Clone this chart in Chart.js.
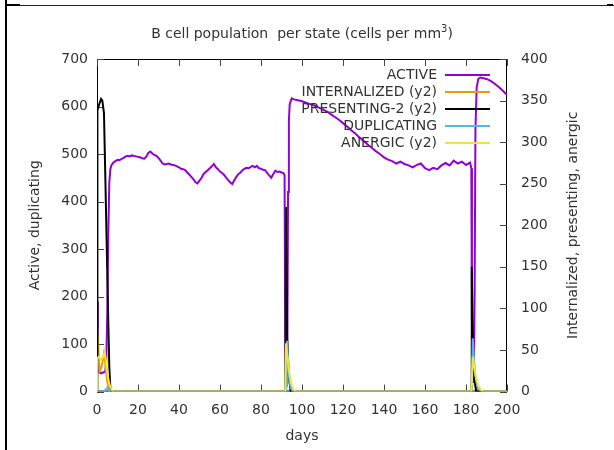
<!DOCTYPE html>
<html><head><meta charset="utf-8">
<script src="https://cdn.jsdelivr.net/npm/chart.js@4/dist/chart.umd.min.js"></script>
<style>html,body{margin:0;padding:0;background:#fff}canvas{display:block}</style>
</head><body>
<canvas id="c" width="614" height="450"></canvas>
<script>
// ---- text ----
const TITLE_MAIN = 'B cell population  per state (cells per mm';
const TITLE_SUP = '3';
const TITLE_END = ')';
const X_TITLE = 'days';
const Y_TITLE = 'Active, duplicating';
const Y2_TITLE = 'Internalized, presenting, anergic';

// ---- ticks ----
const xTicks = [0, 20, 40, 60, 80, 100, 120, 140, 160, 180, 200];
const yTicks = [0, 100, 200, 300, 400, 500, 600, 700];
const y2Ticks = [0, 50, 100, 150, 200, 250, 300, 350, 400];

// ---- series labels / colours ----
const seriesLabels = ['ACTIVE', 'INTERNALIZED (y2)', 'PRESENTING-2 (y2)', 'DUPLICATING', 'ANERGIC (y2)'];
const seriesColors = ['#9400d3', '#e69f00', '#000000', '#56b4e9', '#f0e442'];

// ---- ACTIVE (left axis) ----
const activeDays = [
  0, 0.4, 1, 2, 3, 4, 4.5, 5, 5.5, 6, 6.5,
  7, 8, 9, 10, 11, 12, 13, 14, 15, 16,
  17, 18, 19, 20, 21, 22, 23, 24, 25, 26,
  27, 28, 29, 30, 31, 32, 33, 34, 35, 36,
  37, 38, 39, 40, 41, 42, 43, 44, 45, 46,
  47, 48, 49, 50, 51, 52, 53, 54, 55, 56,
  57, 58, 59, 60, 61, 62, 63, 64, 65, 66,
  67, 68, 69, 70, 71, 72, 73, 74, 75, 76,
  77, 78, 79, 80, 81, 82, 83, 84, 85, 86,
  87, 88, 89, 90, 91,
  91.5, 91.8, 92.1, 92.5, 92.9, 93.2, 93.6, 94, 95, 96,
  98, 100, 102, 104, 106, 108, 110, 112, 114, 116,
  118, 120, 122, 124, 126, 128, 130, 132, 134, 136,
  138, 140, 142, 144, 146, 148, 150, 152, 154, 156,
  158, 160, 162, 164, 166, 168, 170, 172, 174, 176,
  178, 180, 182, 182.6, 182.9, 183.3, 183.8, 184.2, 184.6, 185.2,
  186, 187, 188, 190, 192, 194, 196, 198, 200
];
const activeValues = [
  190, 50, 40, 38, 40, 42, 60, 160, 330, 440, 468,
  476, 482, 485, 488, 487, 490, 492, 495, 496, 495,
  497, 496, 495, 494, 493, 491, 490, 494, 502, 505,
  501, 498, 496, 492, 486, 480, 478, 479, 480, 478,
  477, 476, 474, 472, 469, 468, 466, 461, 457, 452,
  447, 441, 438, 444, 450, 458, 462, 466, 470, 474,
  479, 472, 468, 463, 460, 456, 450, 445, 440, 437,
  445, 452, 458, 461, 466, 469, 471, 470, 473, 475,
  472, 475, 470, 469, 467, 466, 460, 455, 450, 458,
  465, 462, 463, 461, 460,
  455, 120, 25, 20, 150, 420, 570, 605, 617, 615,
  613, 611, 608, 605, 602, 598, 594, 590, 584, 578,
  572, 565, 558, 550, 543, 535, 528, 520, 513, 506,
  500, 493, 488, 485, 480, 484, 479, 476, 472, 477,
  480, 470, 466, 471, 468, 476, 481, 476, 486, 480,
  484, 477, 482, 470, 150, 20, 20, 200, 550, 640,
  658, 661, 660, 658, 654, 648, 641, 633, 624
];

// ---- INTERNALIZED (right axis) ----
const internalizedDays = [0, 0.5, 1, 1.5, 2.3, 3.4, 4, 4.8, 5.5, 6.2, 91.8, 92.2, 92.8, 93.5, 94.5, 95.5, 182.7, 183.2, 184, 185, 186, 187, 200];
const internalizedValues = [80, 60, 35, 25, 30, 46, 35, 15, 5, 0, 0, 50, 30, 15, 5, 0, 0, 35, 20, 8, 2, 0, 0];

// ---- PRESENTING-2 (right axis) ----
const presentingDays = [0, 0.2, 1, 2, 2.6, 3.4, 4, 4.5, 5, 5.5, 6, 6.5, 7, 91.9, 92.2, 92.8, 93.5, 94.5, 182.6, 182.8, 183.4, 184, 185, 200];
const presentingValues = [0, 338, 345, 352, 350, 335, 265, 205, 145, 85, 30, 5, 0, 0, 222, 65, 20, 0, 0, 150, 50, 15, 0, 0];

// ---- DUPLICATING (left axis) ----
const duplicatingDays = [0, 3.5, 4.5, 5.2, 6, 7, 92.3, 92.7, 93.2, 93.8, 94.5, 95.5, 182.8, 183.3, 183.8, 184.5, 185.5, 187, 188, 200];
const duplicatingValues = [0, 0, 6, 8, 3, 0, 0, 107, 60, 25, 8, 0, 0, 112, 75, 35, 12, 2, 0, 0];

// ---- ANERGIC (right axis) ----
const anergicDays = [0, 0.2, 1, 2, 3, 3.8, 4.5, 5.5, 6.5, 7.8, 91.8, 92.2, 92.8, 93.5, 94.5, 95.5, 96.6, 182.7, 183.3, 184, 185, 186, 187, 188, 200];
const anergicValues = [0, 40, 42, 38, 42, 47, 35, 15, 5, 0, 0, 58, 45, 28, 12, 4, 0, 0, 42, 30, 15, 7, 3, 0, 0];

// ---------------------------------------------------------------
const FONT = '"DejaVu Sans", sans-serif';
const TEXT_COLOR = '#333333';
const pts = (d, v) => d.map((x, i) => ({x: x, y: v[i]}));

const seriesData = [
  {days: activeDays, vals: activeValues, axis: 'y'},
  {days: internalizedDays, vals: internalizedValues, axis: 'y2'},
  {days: presentingDays, vals: presentingValues, axis: 'y2'},
  {days: duplicatingDays, vals: duplicatingValues, axis: 'y'},
  {days: anergicDays, vals: anergicValues, axis: 'y2'}
];

const datasets = seriesData.map((s, i) => ({
  label: seriesLabels[i],
  data: pts(s.days, s.vals),
  yAxisID: s.axis,
  borderColor: seriesColors[i],
  backgroundColor: seriesColors[i],
  borderWidth: 2,
  pointRadius: 0,
  tension: 0,
  fill: false,
  order: 5 - i
}));

const decor = {
  id: 'decor',
  beforeDraw(chart) {
    const ctx = chart.ctx;
    ctx.save();
    ctx.fillStyle = '#fff';
    ctx.fillRect(0, 0, chart.width, chart.height);
    // outer frame
    ctx.fillStyle = '#000';
    ctx.fillRect(5, 0, 2, 450);
    ctx.fillStyle = '#222';
    ctx.fillRect(6, 5, 608, 1);
    ctx.fillStyle = '#000';
    ctx.fillRect(6, 4, 14, 2);
    ctx.fillRect(607, 4, 6, 2);
    ctx.restore();
  },
  beforeDatasetsDraw(chart) {
    const {ctx, chartArea: a, scales} = chart;
    ctx.save();
    ctx.strokeStyle = '#000';
    ctx.lineWidth = 1;
    ctx.strokeRect(a.left + 0.5, a.top + 0.5, a.right - a.left - 1, a.bottom - a.top - 1);
    ctx.strokeStyle = '#444';
    const T = 7;
    ctx.beginPath();
    xTicks.forEach(v => {
      const px = Math.round(scales.x.getPixelForValue(v)) + 0.5;
      ctx.moveTo(px, a.bottom); ctx.lineTo(px, a.bottom - T);
      ctx.moveTo(px, a.top); ctx.lineTo(px, a.top + T);
    });
    yTicks.forEach(v => {
      const py = Math.round(scales.y.getPixelForValue(v)) + 0.5;
      ctx.moveTo(a.left, py); ctx.lineTo(a.left + T, py);
    });
    y2Ticks.forEach(v => {
      const py = Math.round(scales.y2.getPixelForValue(v)) + 0.5;
      ctx.moveTo(a.right, py); ctx.lineTo(a.right - T, py);
    });
    ctx.stroke();
    ctx.restore();
  },
  afterDatasetsDraw(chart) {
    const {ctx, chartArea: a} = chart;
    ctx.save();
    ctx.fillStyle = TEXT_COLOR;
    ctx.font = '14px ' + FONT;
    // title with superscript
    const w1 = ctx.measureText(TITLE_MAIN).width;
    ctx.font = '10px ' + FONT;
    const w2 = ctx.measureText(TITLE_SUP).width;
    ctx.font = '14px ' + FONT;
    const w3 = ctx.measureText(TITLE_END).width;
    const cx = (a.left + a.right) / 2;
    let x0 = cx - (w1 + w2 + w3) / 2;
    ctx.textBaseline = 'alphabetic';
    ctx.textAlign = 'left';
    const by = 38;
    ctx.fillText(TITLE_MAIN, x0, by);
    ctx.font = '10px ' + FONT;
    ctx.fillText(TITLE_SUP, x0 + w1, by - 6);
    ctx.font = '14px ' + FONT;
    ctx.fillText(TITLE_END, x0 + w1 + w2, by);
    // axis titles
    ctx.textAlign = 'center';
    ctx.textBaseline = 'middle';
    ctx.fillText(X_TITLE, cx, 436);
    const cy = (a.top + a.bottom) / 2;
    ctx.save(); ctx.translate(35, cy); ctx.rotate(-Math.PI / 2); ctx.fillText(Y_TITLE, 0, 0); ctx.restore();
    ctx.save(); ctx.translate(573, cy); ctx.rotate(-Math.PI / 2); ctx.fillText(Y2_TITLE, 0, 0); ctx.restore();
    // legend
    ctx.textAlign = 'right';
    chart.data.datasets.forEach((ds, i) => {
      const y = 75 + i * 17;
      ctx.fillStyle = TEXT_COLOR;
      ctx.fillText(ds.label, 437, y);
      ctx.strokeStyle = ds.borderColor;
      ctx.lineWidth = 2;
      ctx.beginPath(); ctx.moveTo(445, y); ctx.lineTo(490, y); ctx.stroke();
    });
    ctx.restore();
  }
};

new Chart(document.getElementById('c'), {
  type: 'line',
  data: {datasets: datasets},
  options: {
    responsive: false,
    animation: false,
    events: [],
    layout: {padding: {top: 59, left: 0, right: 0, bottom: 0}},
    plugins: {legend: {display: false}, tooltip: {enabled: false}, title: {display: false}},
    scales: {
      x: {
        type: 'linear', min: 0, max: 200,
        afterBuildTicks: s => { s.ticks = xTicks.map(v => ({value: v})); },
        afterFit: s => { s.height = 58.5; },
        grid: {display: false, drawTicks: false},
        border: {display: false},
        ticks: {padding: 10, color: TEXT_COLOR, font: {family: FONT, size: 14}, maxRotation: 0, autoSkip: false}
      },
      y: {
        type: 'linear', position: 'left', min: 0, max: 700,
        afterBuildTicks: s => { s.ticks = yTicks.map(v => ({value: v})); },
        afterFit: s => { s.width = 97; },
        grid: {display: false, drawTicks: false},
        border: {display: false},
        ticks: {padding: 9, color: TEXT_COLOR, font: {family: FONT, size: 14}}
      },
      y2: {
        type: 'linear', position: 'right', min: 0, max: 400,
        afterBuildTicks: s => { s.ticks = y2Ticks.map(v => ({value: v})); },
        afterFit: s => { s.width = 107; },
        grid: {display: false, drawTicks: false},
        border: {display: false},
        ticks: {padding: 14, color: TEXT_COLOR, font: {family: FONT, size: 14}}
      }
    }
  },
  plugins: [decor]
});
</script>
</body></html>
